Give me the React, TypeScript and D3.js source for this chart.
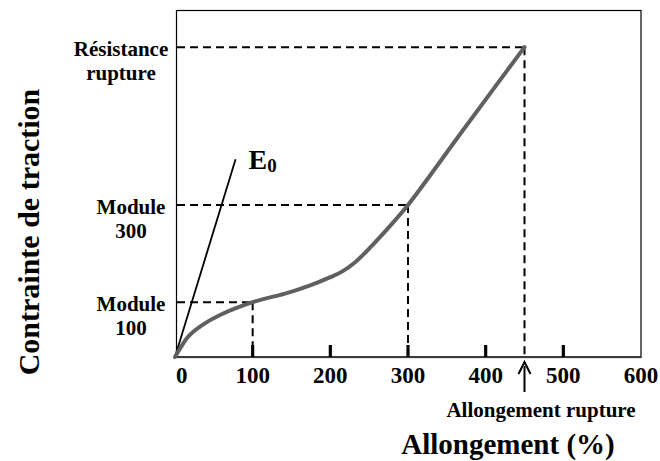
import * as d3 from "d3";
import { useEffect, useRef } from "react";

// stress-strain curve (strain in %, stress in arbitrary units 0-100)
const strain = [0, 8, 17, 35, 58, 100, 145, 175, 200, 215, 232, 254, 277, 300, 371, 450];
const stress = [0, 3.0, 5.9, 9.2, 12.1, 15.8, 18.5, 20.7, 23.0, 24.6, 27.3, 32.2, 37.8, 43.8, 65.4, 89.3];

// initial modulus tangent line
const e0Strain = [0, 78];
const e0Stress = [0, 57];

const xTicks = [0, 100, 200, 300, 400, 500, 600];

// reference points marked with dashed lines
const markerLabels = [
  ["Module", "100"],
  ["Module", "300"],
  ["Résistance", "rupture"],
];
const markerStrain = [100, 300, 450];
const markerStress = [15.8, 43.8, 89.3];

const xTitle = "Allongement (%)";
const yTitle = "Contrainte de traction";
const ruptureLabel = "Allongement rupture";

export default function App({ width = 660, height = 461 }) {
  const ref = useRef<SVGSVGElement | null>(null);

  useEffect(() => {
    const svg = d3.select(ref.current);
    svg.selectAll("*").remove();

    const font = "'Liberation Serif', 'Times New Roman', serif";

    const x = d3.scaleLinear().domain([0, 600]).range([175, 641]);
    const y = d3.scaleLinear().domain([0, 100]).range([357, 10]);

    // ===== Frame =====
    svg
      .append("rect")
      .attr("x", x(0) + 1.5)
      .attr("y", y(100) + 0.5)
      .attr("width", x(600) - x(0) - 1.5)
      .attr("height", y(0) - y(100))
      .attr("fill", "none")
      .attr("stroke", "#000")
      .attr("stroke-width", 1.2);

    // ===== Dashed guides =====
    const dash = "8,5";
    markerStrain.forEach((s, i) => {
      const v = markerStress[i];
      svg
        .append("line")
        .attr("x1", x(0) + 2)
        .attr("x2", x(s))
        .attr("y1", y(v))
        .attr("y2", y(v))
        .attr("stroke", "#000")
        .attr("stroke-width", 2)
        .attr("stroke-dasharray", dash);
      svg
        .append("line")
        .attr("x1", x(s))
        .attr("x2", x(s))
        .attr("y1", y(v))
        .attr("y2", y(0))
        .attr("stroke", "#000")
        .attr("stroke-width", 2)
        .attr("stroke-dasharray", dash);
    });

    // ===== Bottom axis =====
    svg
      .append("line")
      .attr("x1", x(0) + 1)
      .attr("x2", x(600))
      .attr("y1", y(0))
      .attr("y2", y(0))
      .attr("stroke", "#3a3a3a")
      .attr("stroke-width", 2.2);

    svg
      .selectAll(".tick-mark")
      .data(xTicks.filter((t) => t > 0 && t < 600))
      .enter()
      .append("line")
      .attr("x1", (d) => x(d))
      .attr("x2", (d) => x(d))
      .attr("y1", y(0) - 12)
      .attr("y2", y(0))
      .attr("stroke", "#000")
      .attr("stroke-width", 3.2);

    svg
      .selectAll(".tick-label")
      .data(xTicks)
      .enter()
      .append("text")
      .attr("x", (d) => (d === 0 ? x(d) + 1 : x(d)))
      .attr("y", 383)
      .attr("text-anchor", (d) => (d === 0 ? "start" : "middle"))
      .style("font-family", font)
      .style("font-weight", "bold")
      .style("font-size", "23px")
      .text((d) => d);

    // ===== E0 tangent =====
    const line = d3
      .line<number>()
      .x((d) => x(d))
      .y((_, i) => y(e0Stress[i]));
    svg
      .append("path")
      .attr("d", line(e0Strain))
      .attr("fill", "none")
      .attr("stroke", "#000")
      .attr("stroke-width", 1.8);

    const e0 = svg
      .append("text")
      .attr("x", x(e0Strain[1]) + 13)
      .attr("y", y(e0Stress[1]) + 10)
      .style("font-family", font)
      .style("font-weight", "bold")
      .style("font-size", "28px");
    e0.append("tspan").text("E");
    e0.append("tspan").attr("dy", 3).style("font-size", "19px").text("0");

    // ===== Curve =====
    const curve = d3
      .line<number>()
      .x((d) => x(d))
      .y((_, i) => y(stress[i]))
      .curve(d3.curveCatmullRom.alpha(0.5));
    svg
      .append("path")
      .attr("d", curve(strain))
      .attr("fill", "none")
      .attr("stroke", "#606060")
      .attr("stroke-width", 4)
      .attr("stroke-linecap", "round");

    // ===== Marker labels =====
    const labelX = [131, 131, 121];
    markerLabels.forEach((lines, i) => {
      const t = svg
        .append("text")
        .attr("text-anchor", "middle")
        .style("font-family", font)
        .style("font-weight", "bold")
        .style("font-size", "21px");
      lines.forEach((l, j) => {
        t.append("tspan")
          .attr("x", labelX[i])
          .attr("y", y(markerStress[i]) + 9 + j * 24)
          .text(l);
      });
    });

    // ===== Rupture arrow =====
    const ax = x(markerStrain[2]);
    svg
      .append("line")
      .attr("x1", ax)
      .attr("x2", ax)
      .attr("y1", 392)
      .attr("y2", 366)
      .attr("stroke", "#000")
      .attr("stroke-width", 2);
    svg
      .append("path")
      .attr("d", `M${ax - 6},${374} L${ax},${362} L${ax + 6},${374}`)
      .attr("fill", "none")
      .attr("stroke", "#000")
      .attr("stroke-width", 2);

    svg
      .append("text")
      .attr("x", 541)
      .attr("y", 417)
      .attr("text-anchor", "middle")
      .style("font-family", font)
      .style("font-weight", "bold")
      .style("font-size", "21px")
      .text(ruptureLabel);

    // ===== Axis titles =====
    svg
      .append("text")
      .attr("x", 508)
      .attr("y", 454)
      .attr("text-anchor", "middle")
      .style("font-family", font)
      .style("font-weight", "bold")
      .style("font-size", "29px")
      .text(xTitle);

    svg
      .append("text")
      .attr("transform", `translate(39,232) rotate(-90)`)
      .attr("text-anchor", "middle")
      .style("font-family", font)
      .style("font-weight", "bold")
      .style("font-size", "30px")
      .text(yTitle);
  }, [width, height]);

  return (
    <svg
      ref={ref}
      width={width}
      height={height}
      style={{ position: "absolute", left: 0, top: 0, background: "#fff" }}
    />
  );
}
